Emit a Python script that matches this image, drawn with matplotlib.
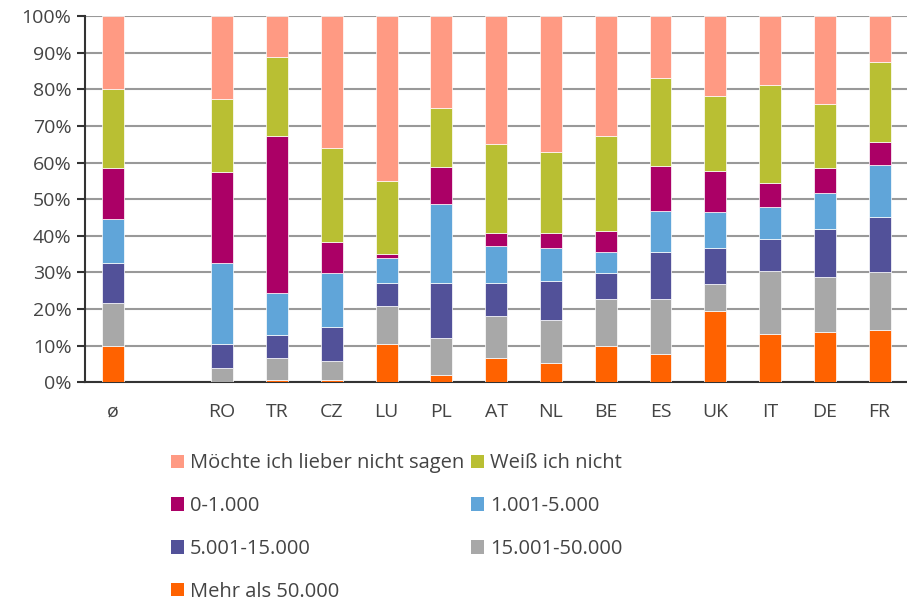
import numpy as np
import matplotlib.pyplot as plt
from matplotlib.patches import Patch

plt.rcParams['font.family'] = ['Open Sans', 'DejaVu Sans']

# Kategorien (leerer Platz zwischen Durchschnitt und Ländern)
laender = ['ø', '', 'RO', 'TR', 'CZ', 'LU', 'PL', 'AT', 'NL', 'BE', 'ES', 'UK', 'IT', 'DE', 'FR']

# Anteile in % (von unten nach oben gestapelt)
mehr_50000 = [9.9, 0, 0.0, 0.6, 0.5, 10.5, 2.1, 6.7, 5.2, 9.9, 7.7, 19.4, 13.2, 13.7, 14.2]
von_15001 = [11.7, 0, 3.8, 5.9, 5.2, 10.3, 10.1, 11.3, 11.9, 12.7, 14.9, 7.5, 17.3, 15.0, 15.8]
von_5001 = [11.0, 0, 6.7, 6.3, 9.5, 6.3, 15.0, 9.2, 10.5, 7.2, 13.1, 9.8, 8.6, 13.1, 15.2]
von_1001 = [12.1, 0, 22.1, 11.7, 14.7, 6.8, 21.4, 10.0, 9.0, 5.7, 11.0, 9.7, 8.9, 10.0, 14.1]
bis_1000 = [13.9, 0, 24.9, 42.8, 8.4, 1.1, 10.1, 3.5, 4.2, 5.8, 12.3, 11.2, 6.4, 6.8, 6.4]
weiss_nicht = [21.4, 0, 19.9, 21.5, 25.6, 19.9, 16.1, 24.4, 22.2, 25.9, 24.0, 20.6, 26.7, 17.3, 21.7]
nicht_sagen = [20.0, 0, 22.6, 11.2, 36.1, 45.1, 25.2, 34.9, 37.0, 32.8, 17.0, 21.8, 18.9, 24.1, 12.6]

serien = [
    ('Mehr als 50.000', mehr_50000, '#FF6200'),
    ('15.001-50.000', von_15001, '#A8A8A8'),
    ('5.001-15.000', von_5001, '#525199'),
    ('1.001-5.000', von_1001, '#60A5D9'),
    ('0-1.000', bis_1000, '#AB0066'),
    ('Weiß ich nicht', weiss_nicht, '#B9BF33'),
    ('Möchte ich lieber nicht sagen', nicht_sagen, '#FF9A83'),
]

fig = plt.figure(figsize=(9.07, 6), dpi=100)
ax = fig.add_axes([0.094, 0.363, 0.906, 0.61])

x = np.arange(len(laender))
unten = np.zeros(len(laender))
farben = {}
for name, werte, farbe in serien:
    werte = np.array(werte)
    ax.bar(x, werte, bottom=unten, width=0.4, color=farbe,
           edgecolor='white', linewidth=0.5, zorder=3)
    unten += werte
    farben[name] = farbe

ax.set_xlim(-0.5, len(laender) - 0.5)
ax.set_ylim(0, 100)
ax.set_yticks(np.arange(0, 101, 10))
ax.set_yticklabels([f'{v}%' for v in range(0, 101, 10)])
ax.set_xticks(x)
ax.set_xticklabels(laender)

ax.grid(axis='y', color='#999999', linewidth=1.5, zorder=0)
ax.set_axisbelow(True)
for s in ['top', 'right']:
    ax.spines[s].set_visible(False)
ax.spines['left'].set_color('#333333')
ax.spines['left'].set_linewidth(1.5)
ax.spines['bottom'].set_color('#333333')
ax.spines['bottom'].set_linewidth(1.5)
ax.tick_params(axis='y', length=6, width=1.5, color='#333333',
               labelsize=14, labelcolor='#444444', pad=4)
ax.tick_params(axis='x', length=0, labelsize=14, labelcolor='#444444', pad=15)

# Legende in Zeilenreihenfolge (zwei Spalten)
reihenfolge = ['Möchte ich lieber nicht sagen', '0-1.000', '5.001-15.000', 'Mehr als 50.000',
               'Weiß ich nicht', '1.001-5.000', '15.001-50.000']
handles = [Patch(facecolor=farben[n], label=n) for n in reihenfolge]
fig.legend(handles=handles, ncol=2, loc='upper left', bbox_to_anchor=(0.177, 0.261),
           frameon=False, fontsize=14.5, labelcolor='#444444',
           handlelength=0.65, handleheight=0.65, handletextpad=0.3,
           columnspacing=0.35, labelspacing=1.13, borderpad=0)

fig.savefig('out.png', dpi=100)
